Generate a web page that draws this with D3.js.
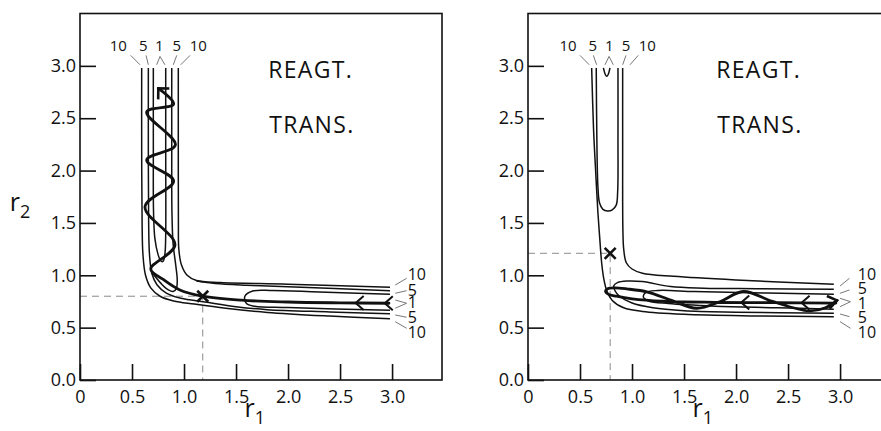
<!DOCTYPE html>
<html><head><meta charset="utf-8">
<script src="https://cdn.jsdelivr.net/npm/d3@7"></script>
<style>body{margin:0;background:#fff}svg{display:block}text{font-family:"Open Sans",sans-serif;fill:#111}</style>
</head><body><svg id="c" width="881" height="431"></svg>
<script>
const xTicks=[0,0.5,1,1.5,2,2.5,3];
const yTicks=[0,0.5,1,1.5,2,2.5,3];
const levelLabels=["10","5","1","5","10"];
const panelTitles=["REAGT.","TRANS."];

// ---------- left panel (data in r1, r2) ----------
const L_c10Outer=[[0.945,2.98],[0.945,2.2],[0.946,1.5],[0.95,1.25],[0.975,1.1],[1.03,1.0],[1.12,0.95],[1.35,0.93],[2.0,0.915],[2.98,0.885]];
const L_c5Upper=[[1.12,0.945],[1.3,0.922],[1.6,0.905],[2.0,0.89],[2.98,0.852]];
const L_c1Horiz=[[2.98,0.818],[2.3,0.84],[1.85,0.855],[1.66,0.85],[1.585,0.8],[1.6,0.73],[1.68,0.705],[2.0,0.692],[2.98,0.665]];
const L_c5Inner=[[0.657,2.98],[0.657,2.2],[0.66,1.5],[0.668,1.2],[0.69,1.02],[0.74,0.91],[0.83,0.83],[0.97,0.78],[1.2,0.745],[1.5,0.7],[1.8,0.672],[2.4,0.65],[2.98,0.632]];
const L_c10Inner=[[0.593,2.98],[0.593,2.2],[0.597,1.5],[0.605,1.2],[0.63,1.0],[0.68,0.88],[0.77,0.8],[0.9,0.755],[1.1,0.725],[1.4,0.685],[1.8,0.645],[2.4,0.61],[2.98,0.585]];
const L_c1Vert=[[0.705,2.98],[0.705,2.2],[0.707,1.6],[0.72,1.35],[0.75,1.2],[0.775,1.14],[0.79,1.13],[0.805,1.145],[0.818,1.22],[0.824,1.4],[0.824,2.2],[0.824,2.98]];
const L_c5Right=[[0.882,2.98],[0.882,2.2],[0.884,1.6],[0.895,1.3],[0.92,1.1],[0.935,0.95],[0.925,0.87],[0.895,0.845],[0.85,0.86],[0.79,0.91],[0.72,0.99],[0.69,1.03]];
const L_traj=[[2.97,0.733],[2.5,0.737],[2.0,0.745],[1.55,0.762],[1.18,0.80],[0.96,0.86],[0.80,0.96],[0.68,1.06],[0.913,1.29],[0.625,1.655],[0.9,1.9],[0.641,2.1],[0.917,2.245],[0.641,2.56],[0.9,2.635],[0.753,2.785]];
const L_chevrons=[[2.65,0.736],[2.93,0.733]];
const L_X=[1.18,0.80];
const L_topLabelX=[0.368,0.609,0.763,0.93,1.137];
const L_topLeaders=[[[0.487,3.1],[0.577,3.01]],[[0.635,3.1],[0.657,3.01]],[[0.737,3.01],[0.769,3.09],[0.817,3.01]],[[0.93,3.1],[0.897,3.01]],[[1.058,3.1],[0.968,3.01]]];
const L_sideLabelY=[1.012,0.86,0.745,0.60,0.456];
const L_sideLeaders=[[[3.03,0.907],[3.14,0.971]],[[3.03,0.828],[3.14,0.853]],[[3.03,0.764],[3.14,0.733],[3.03,0.685]],[[3.03,0.621],[3.14,0.599]],[[3.03,0.557],[3.14,0.494]]];

// ---------- right panel ----------
const R_c10Outer=[[0.91,2.98],[0.91,2.2],[0.912,1.45],[0.92,1.25],[0.945,1.12],[1.0,1.06],[1.1,1.02],[1.4,0.99],[2.0,0.955],[2.94,0.915]];
const R_c10Inner=[[0.612,2.98],[0.63,2.4],[0.65,2.0],[0.672,1.6],[0.69,1.35],[0.708,1.12],[0.728,0.97],[0.758,0.85],[0.81,0.76],[0.92,0.69],[1.1,0.655],[1.5,0.628],[2.2,0.612],[2.94,0.603]];
const R_c5Vert=[[0.656,2.98],[0.662,2.3],[0.672,1.85],[0.688,1.69],[0.72,1.63],[0.765,1.615],[0.81,1.625],[0.848,1.67],[0.862,1.8],[0.865,2.3],[0.865,2.98]];
const R_c5Horiz=[[2.94,0.866],[2.2,0.872],[1.69,0.877],[1.37,0.892],[1.1,0.94],[0.95,0.945],[0.86,0.93],[0.825,0.9],[0.835,0.855],[0.88,0.8],[1.0,0.735],[1.2,0.69],[1.5,0.662],[2.0,0.648],[2.94,0.637]];
const R_c1Horiz=[[2.94,0.82],[2.3,0.83],[1.6,0.845],[1.25,0.855],[1.13,0.835],[1.11,0.79],[1.16,0.755],[1.35,0.73],[1.8,0.705],[2.4,0.69],[2.94,0.675]];
const R_c1Tip=[[0.725,2.98],[0.742,2.92],[0.757,2.9],[0.772,2.92],[0.788,2.98]];
const R_traj=[[2.96,0.735],[2.4,0.738],[1.8,0.742],[1.3,0.752],[1.0,0.775],[0.85,0.8],[0.77,0.82],[0.745,0.845],[0.765,0.872],[0.83,0.88],[0.95,0.87],[1.15,0.84],[1.38,0.76],[1.62,0.685],[1.85,0.75],[2.07,0.845],[2.35,0.75],[2.7,0.66],[2.86,0.69],[2.97,0.76]];
const R_chevrons=[[2.05,0.741],[2.63,0.737]];
const R_X=[0.79,1.21];
const R_topLabelX=[0.385,0.622,0.782,0.942,1.147];
const R_topLeaders=[[[0.5,3.1],[0.589,3.01]],[[0.628,3.1],[0.66,3.01]],[[0.74,3.01],[0.779,3.09],[0.82,3.01]],[[0.942,3.1],[0.91,3.01]],[[1.06,3.1],[0.98,3.01]]];
const R_sideLabelY=[1.012,0.875,0.74,0.60,0.454];
const R_sideLeaders=[[[3.0,0.898],[3.09,0.971]],[[3.0,0.828],[3.09,0.86]],[[3.0,0.78],[3.1,0.748],[3.0,0.70]],[[3.0,0.63],[3.09,0.605]],[[3.0,0.557],[3.1,0.494]]];

const svg=d3.select("#c");

function drawPanel(ox,P){
  const x=d3.scaleLinear().domain([0,3.48]).range([ox,ox+362]);
  const y=d3.scaleLinear().domain([0,3.5]).range([380,13.5]);
  const g=svg.append("g");
  const line=d3.line().x(d=>x(d[0])).y(d=>y(d[1])).curve(d3.curveCatmullRom.alpha(0.5));
  const lin=d3.line().x(d=>x(d[0])).y(d=>y(d[1]));

  // dashed guides
  g.append("path").attr("d",lin([[0,P.X[1]],[P.X[0],P.X[1]],[P.X[0],0]])).attr("fill","none")
    .attr("stroke","#8a8a8a").attr("stroke-width",1).attr("stroke-dasharray","7,5");

  // frame
  g.append("rect").attr("x",x(0)).attr("y",y(3.5)).attr("width",x(3.48)-x(0)).attr("height",y(0)-y(3.5))
    .attr("fill","none").attr("stroke","#111").attr("stroke-width",1.6);

  const xa=d3.axisBottom(x).tickValues(xTicks).tickSizeInner(-16).tickSizeOuter(0).tickPadding(10)
    .tickFormat(d=>d===0?"0":d.toFixed(1));
  const gx=g.append("g").attr("transform",`translate(0,${y(0)})`).call(xa);
  const ya=d3.axisLeft(y).tickValues(yTicks).tickSizeInner(-16).tickSizeOuter(0).tickPadding(4)
    .tickFormat(d=>d.toFixed(1));
  const gy=g.append("g").attr("transform",`translate(${x(0)},0)`).call(ya);
  [gx,gy].forEach(a=>{
    a.attr("font-size",18).attr("font-family","'Open Sans',sans-serif");
    a.select(".domain").remove();
    a.selectAll(".tick line").attr("stroke","#111").attr("stroke-width",1.6);
    a.selectAll(".tick text").attr("fill","#111");
  });

  // contours
  P.contours.forEach(c=>{
    g.append("path").attr("d",line(c)).attr("fill","none").attr("stroke","#111").attr("stroke-width",1.5);
  });

  // leaders + labels
  const lead=d3.line().x(d=>x(d[0])).y(d=>y(d[1]));
  P.topLeaders.concat(P.sideLeaders).forEach(l=>{
    g.append("path").attr("d",lead(l)).attr("fill","none").attr("stroke","#777").attr("stroke-width",1);
  });
  levelLabels.forEach((t,i)=>{
    g.append("text").attr("x",x(P.topLabelX[i])).attr("y",y(3.2)).attr("text-anchor","middle")
      .attr("dominant-baseline","central").attr("font-size",15).text(t);
    g.append("text").attr("x",x(P.sideLabelX)).attr("y",y(P.sideLabelY[i])).attr("text-anchor","start")
      .attr("dominant-baseline","central").attr("font-size",16).text(t);
  });

  // trajectory
  g.append("path").attr("d",line(P.traj)).attr("fill","none").attr("stroke","#111")
    .attr("stroke-width",2.8).attr("stroke-linejoin","round").attr("stroke-linecap","round");
  // chevrons
  P.chevrons.forEach(c=>{
    const cx=x(c[0]),cy=y(c[1]);
    g.append("path").attr("d",`M${cx+8},${cy-7}L${cx},${cy}L${cx+8},${cy+7}`).attr("fill","none")
      .attr("stroke","#111").attr("stroke-width",2).attr("stroke-linejoin","miter");
  });
  // arrowhead
  const tip=[x(P.arrowTip[0]),y(P.arrowTip[1])],fr=[x(P.arrowFrom[0]),y(P.arrowFrom[1])];
  const ang=Math.atan2(fr[1]-tip[1],fr[0]-tip[0]);
  const a1=ang+P.arrowSpread,a2=ang-P.arrowSpread,L=11;
  g.append("path").attr("d",`M${tip[0]+L*Math.cos(a1)},${tip[1]+L*Math.sin(a1)}L${tip[0]},${tip[1]}L${tip[0]+L*Math.cos(a2)},${tip[1]+L*Math.sin(a2)}`)
    .attr("fill","none").attr("stroke","#111").attr("stroke-width",2.6).attr("stroke-linejoin","miter");

  // saddle X
  const sx=x(P.X[0]),sy=y(P.X[1]),s=5.5;
  g.append("path").attr("d",`M${sx-s},${sy-s}L${sx+s},${sy+s}M${sx+s},${sy-s}L${sx-s},${sy+s}`)
    .attr("stroke","#111").attr("stroke-width",2.6);

  // titles
  g.append("text").attr("x",x(1.81)).attr("y",y(2.885)).attr("font-size",23).attr("letter-spacing",1.3).text(panelTitles[0]);
  g.append("text").attr("x",x(1.82)).attr("y",y(2.36)).attr("font-size",23).attr("letter-spacing",1.3).text(panelTitles[1]);

  // axis title r1
  const t=g.append("text").attr("x",x(1.68)).attr("y",417).attr("text-anchor","middle").attr("font-size",25);
  t.append("tspan").text("r");
  t.append("tspan").attr("font-size",18).attr("dy",7).text("1");
  return {x,y};
}

drawPanel(80,{contours:[L_c10Outer,L_c5Upper,L_c1Horiz,L_c5Inner,L_c10Inner,L_c1Vert,L_c5Right],
  traj:L_traj,chevrons:L_chevrons,X:L_X,arrowTip:L_traj[L_traj.length-1],arrowFrom:L_traj[L_traj.length-2],arrowSpread:Math.PI/4,
  topLabelX:L_topLabelX,topLeaders:L_topLeaders,sideLabelX:3.15,sideLabelY:L_sideLabelY,sideLeaders:L_sideLeaders});
drawPanel(528,{contours:[R_c10Outer,R_c10Inner,R_c5Vert,R_c5Horiz,R_c1Horiz,R_c1Tip],
  traj:R_traj,chevrons:R_chevrons,X:R_X,arrowTip:R_traj[R_traj.length-1],arrowFrom:[2.9,0.745],arrowSpread:Math.PI/5,
  topLabelX:R_topLabelX,topLeaders:R_topLeaders,sideLabelX:3.17,sideLabelY:R_sideLabelY,sideLeaders:R_sideLeaders});

// r2 axis title (left panel only)
const t2=svg.append("text").attr("x",20).attr("y",211).attr("text-anchor","middle").attr("font-size",25);
t2.append("tspan").text("r");
t2.append("tspan").attr("font-size",18).attr("dy",7).text("2");
</script></body></html>
